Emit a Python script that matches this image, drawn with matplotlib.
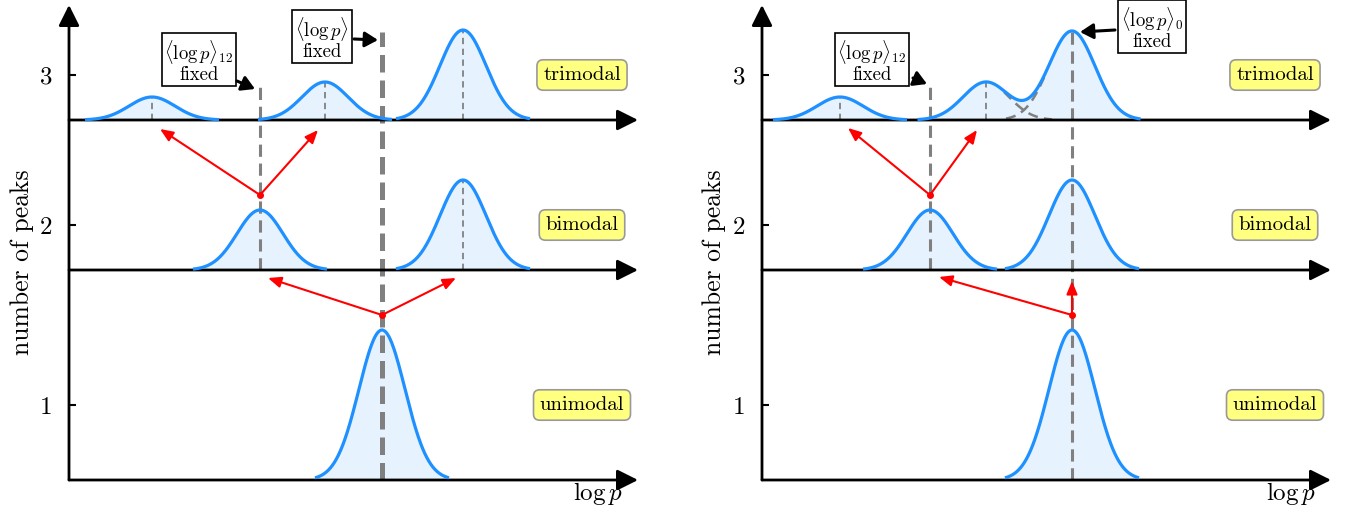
import numpy as np
import matplotlib
matplotlib.use("Agg")
import matplotlib.pyplot as plt

plt.rcParams['font.family'] = 'serif'
plt.rcParams['font.serif'] = ['cmr10']
plt.rcParams['mathtext.fontset'] = 'cm'
plt.rcParams['axes.formatter.use_mathtext'] = True

# ---------------- data (axis units) ----------------
level_names = ['unimodal', 'bimodal', 'trimodal']
level_ticks = ['1', '2', '3']
level_tick_pos = [75, 255, 405]
baselines = [0, 210, 360]
sigma = 23.0
half_extent = 67.0

# left panel: peak centres & heights per level
left_centers = {0: [313], 1: [191, 394], 2: [83, 256, 394]}
left_heights = {0: [150], 1: [60, 90], 2: [23, 38, 90]}
# right panel
right_centers = {0: [310], 1: [168, 310], 2: [78, 224, 310]}
right_heights = {0: [150], 1: [60, 90], 2: [23, 38, 89]}

BLUE = '#1e90ff'
FILL = '#e6f2fd'
GREY = '#808080'
RED = '#ff0000'

W, H = 1345, 508
fig = plt.figure(figsize=(W / 100, H / 100), dpi=100)

AX_ARROW = dict(arrowstyle='-|>,head_length=0.9,head_width=0.45', lw=2, color='k',
                shrinkA=0, shrinkB=0, mutation_scale=14)


def make_ax(x0):
    ax = fig.add_axes([x0 / W, 28 / H, 569 / W, 475 / H])
    ax.set_xlim(0, 569)
    ax.set_ylim(0, 475)
    for s in ax.spines.values():
        s.set_visible(False)
    ax.set_xticks([])
    ax.set_yticks(level_tick_pos, level_ticks)
    ax.tick_params(axis='y', direction='in', length=5, width=1.5, pad=12, labelsize=18)
    # axis arrows
    ax.annotate('', xy=(0, 475), xytext=(0, 0), arrowprops=AX_ARROW, annotation_clip=False)
    for b in baselines:
        ax.annotate('', xy=(569, b), xytext=(0, b), arrowprops=AX_ARROW, annotation_clip=False)
    ax.text(529, -20, r'$\log p$', ha='center', va='baseline', fontsize=18)
    for i, name in enumerate(level_names):
        ax.text(513, level_tick_pos[i], name, ha='center', va='center', fontsize=15,
                bbox=dict(boxstyle='round,pad=0.3', fc='#ffff80', ec='#999999', lw=1.2), zorder=6)
    return ax


def gauss(x, c, h):
    return h * np.exp(-(x - c) ** 2 / (2 * sigma ** 2))


def draw_peak(ax, c, h, base):
    x = np.linspace(c - half_extent, c + half_extent, 200)
    y = base + gauss(x, c, h)
    ax.fill_between(x, base, y, color=FILL, lw=0, zorder=1)
    ax.plot(x, y, color=BLUE, lw=2.3, zorder=3, solid_capstyle='butt')


def thin_dash(ax, c, h, base):
    ax.plot([c, c], [base, base + h], color=GREY, lw=1.3, ls=(0, (3.5, 2.5)), zorder=2)


def red_arrow(ax, start, end):
    ax.annotate('', xy=end, xytext=start,
                arrowprops=dict(arrowstyle='-|>,head_length=0.6,head_width=0.25', lw=1.5, color=RED,
                                shrinkA=0, shrinkB=0, mutation_scale=13), zorder=7)


def note(ax, text, center, start, end):
    ax.text(center[0], center[1], text, ha='center', va='center', fontsize=13.5,
            multialignment='center', linespacing=0.95,
            bbox=dict(boxstyle='square,pad=0.15', fc='white', ec='k', lw=1.2), zorder=8)
    ax.annotate('', xy=end, xytext=start,
                arrowprops=dict(arrowstyle='-|>,head_length=0.6,head_width=0.35', lw=2.2, color='k',
                                shrinkA=0, shrinkB=0, mutation_scale=13), zorder=8)


# ---------------- left panel ----------------
axL = make_ax(69)
for lvl in range(3):
    for c, h in zip(left_centers[lvl], left_heights[lvl]):
        draw_peak(axL, c, h, baselines[lvl])
# thin dashed at trimodal peaks and right bimodal peak
for c, h in zip(left_centers[2], left_heights[2]):
    thin_dash(axL, c, h, baselines[2])
thin_dash(axL, left_centers[1][1], left_heights[1][1], baselines[1])
# thick dashed <log p> fixed
cU = left_centers[0][0]
axL.plot([cU, cU], [0, 448], color=GREY, lw=3.6, ls=(0, (3.5, 1.6)), zorder=2)
# medium dashed <log p>_12
c12 = left_centers[1][0]
axL.plot([c12, c12], [baselines[1], 397], color=GREY, lw=2.2, ls=(0, (4, 2.2)), zorder=2)
# red arrows
axL.plot(cU, 165, 'o', color=RED, ms=4, zorder=7)
red_arrow(axL, (cU, 165), (199, 202))
red_arrow(axL, (cU, 165), (387, 202))
axL.plot(c12, 285, 'o', color=RED, ms=4, zorder=7)
red_arrow(axL, (c12, 285), (91, 351))
red_arrow(axL, (c12, 285), (249, 350))
note(axL, r'$\langle\log p\rangle_{12}$' + '\nfixed', (130, 419), (168, 399), (186, 391))
note(axL, r'$\langle\log p\rangle$' + '\nfixed', (253, 442), (285, 441), (309, 440))

# ---------------- right panel ----------------
axR = make_ax(762)
for lvl in range(2):
    for c, h in zip(right_centers[lvl], right_heights[lvl]):
        draw_peak(axR, c, h, baselines[lvl])
# trimodal: first peak separate, other two summed
c0, c1, c2 = right_centers[2]
h0, h1, h2 = right_heights[2]
draw_peak(axR, c0, h0, baselines[2])
xs = np.linspace(c1 - half_extent, c2 + half_extent, 400)
ys = baselines[2] + gauss(xs, c1, h1) + gauss(xs, c2, h2)
axR.fill_between(xs, baselines[2], ys, color=FILL, lw=0, zorder=1)
axR.plot(xs, ys, color=BLUE, lw=2.3, zorder=3)
xa = np.linspace(c1 + 18, c1 + 66, 60)
axR.plot(xa, baselines[2] + gauss(xa, c1, h1), color=GREY, lw=1.8, ls=(0, (4, 2.5)), zorder=2)
xb = np.linspace(c2 - 66, c2 - 28, 60)
axR.plot(xb, baselines[2] + gauss(xb, c2, h2), color=GREY, lw=1.8, ls=(0, (4, 2.5)), zorder=2)
thin_dash(axR, c0, h0, baselines[2])
thin_dash(axR, c1, h1, baselines[2])
# medium dashed lines
cR = right_centers[0][0]
axR.plot([cR, cR], [0, 449], color=GREY, lw=2.2, ls=(0, (4, 2.2)), zorder=2)
c12r = right_centers[1][0]
axR.plot([c12r, c12r], [baselines[1], 397], color=GREY, lw=2.2, ls=(0, (4, 2.2)), zorder=2)
# red arrows
axR.plot(cR, 165, 'o', color=RED, ms=4, zorder=7)
red_arrow(axR, (cR, 165), (177, 203))
red_arrow(axR, (cR, 165), (cR, 199))
axR.plot(c12r, 285, 'o', color=RED, ms=4, zorder=7)
red_arrow(axR, (c12r, 285), (86, 352))
red_arrow(axR, (c12r, 285), (215, 350))
note(axR, r'$\langle\log p\rangle_{12}$' + '\nfixed', (110, 419), (151, 402), (165, 396))
note(axR, r'$\langle\log p\rangle_{0}$' + '\nfixed', (390, 452), (353, 450), (318, 448))

fig.text(22 / W, 1 - 262 / H, 'number of peaks', rotation=90, ha='center', va='center', fontsize=18.5)
fig.text(714 / W, 1 - 262 / H, 'number of peaks', rotation=90, ha='center', va='center', fontsize=18.5)

fig.savefig('out.png', dpi=100)
